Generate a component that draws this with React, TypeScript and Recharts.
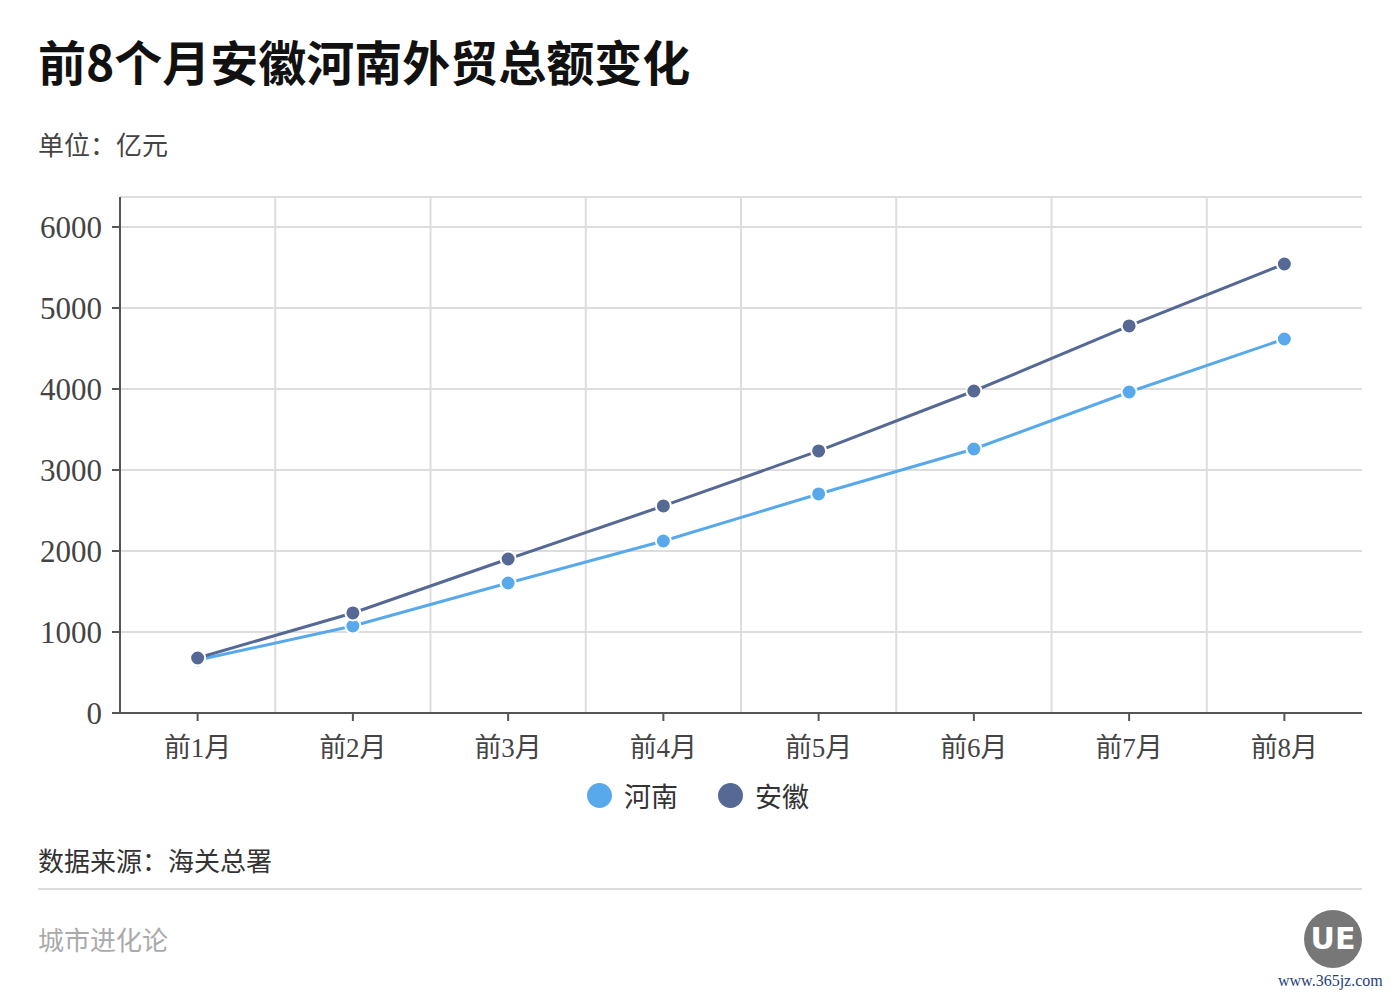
import { CartesianGrid, Legend, Line, LineChart, XAxis, YAxis } from "recharts";

const months = ["前1月", "前2月", "前3月", "前4月", "前5月", "前6月", "前7月", "前8月"];
const henan = [654, 1074, 1605, 2123, 2704, 3259, 3963, 4617];
const anhui = [679, 1235, 1901, 2556, 3235, 3975, 4778, 5543];
const yTicks = [0, 1000, 2000, 3000, 4000, 5000, 6000];
const seriesNames = ["河南", "安徽"];

const HENAN_COLOR = "#58a9ec";
const ANHUI_COLOR = "#556994";

const CJK = '"Noto Sans CJK SC", sans-serif';
const TICK_FONT = '"Liberation Serif", "Noto Sans CJK SC", serif';

const data = months.map((m, i) => ({ month: m, 河南: henan[i], 安徽: anhui[i] }));

const LegendContent = ({ payload }: any) => {
  const items = [...(payload || [])].sort(
    (a: any, b: any) => seriesNames.indexOf(a.value) - seriesNames.indexOf(b.value)
  );
  return (
    <div
      style={{
        display: "flex",
        justifyContent: "center",
        alignItems: "center",
        gap: 40,
        paddingLeft: 24,
      }}
    >
      {items.map((p: any) => (
        <div key={p.value} style={{ display: "flex", alignItems: "center" }}>
          <span
            style={{
              width: 25,
              height: 25,
              borderRadius: 13,
              background: p.color,
              display: "inline-block",
              marginRight: 12,
            }}
          />
          <span style={{ fontFamily: CJK, fontSize: 27, color: "#333" }}>{p.value}</span>
        </div>
      ))}
    </div>
  );
};

export default function App() {
  return (
    <div
      style={{
        position: "absolute",
        left: 0,
        top: 0,
        width: 1400,
        height: 1000,
        background: "#fff",
        overflow: "hidden",
      }}
    >
      <LineChart
        width={1400}
        height={830}
        data={data}
        margin={{ top: 197, right: 38, left: 10, bottom: 14 }}
        style={{ position: "absolute", left: 0, top: 0 }}
      >
        <CartesianGrid
          stroke="#dddddd"
          strokeWidth={2}
          verticalCoordinatesGenerator={({ offset }: any) =>
            months.slice(1).map((_, i) => offset.left + (offset.width * (i + 1)) / months.length)
          }
        />
        <XAxis
          dataKey="month"
          scale="band"
          height={63}
          stroke="#555"
          strokeWidth={2}
          tickSize={8}
          tickMargin={17}
          tick={{ fontSize: 27, fill: "#444", fontFamily: TICK_FONT }}
        />
        <YAxis
          width={110}
          domain={[0, 6370]}
          ticks={yTicks}
          stroke="#555"
          strokeWidth={2}
          tickSize={8}
          tickMargin={10}
          tick={{ fontSize: 31, fill: "#444", fontFamily: TICK_FONT }}
          allowDataOverflow
        />
        <Legend verticalAlign="bottom" height={40} content={<LegendContent />} />
        <Line
          dataKey="河南"
          stroke={HENAN_COLOR}
          strokeWidth={3}
          dot={{ r: 7.5, fill: HENAN_COLOR, stroke: "#fff", strokeWidth: 2 }}
          isAnimationActive={false}
        />
        <Line
          dataKey="安徽"
          stroke={ANHUI_COLOR}
          strokeWidth={3}
          dot={{ r: 7.5, fill: ANHUI_COLOR, stroke: "#fff", strokeWidth: 2 }}
          isAnimationActive={false}
        />
      </LineChart>

      <div
        style={{
          position: "absolute",
          left: 38,
          top: 29,
          fontFamily: CJK,
          fontWeight: 700,
          fontSize: 48,
          lineHeight: "62px",
          color: "#111",
        }}
      >
        前8个月安徽河南外贸总额变化
      </div>
      <div
        style={{
          position: "absolute",
          left: 38,
          top: 127,
          fontFamily: CJK,
          fontSize: 26,
          lineHeight: "34px",
          color: "#444",
        }}
      >
        单位：亿元
      </div>
      <div
        style={{
          position: "absolute",
          left: 38,
          top: 843,
          fontFamily: CJK,
          fontSize: 26,
          lineHeight: "34px",
          color: "#333",
        }}
      >
        数据来源：海关总署
      </div>
      <div
        style={{
          position: "absolute",
          left: 38,
          top: 888,
          width: 1324,
          height: 2,
          background: "#dddddd",
        }}
      />
      <div
        style={{
          position: "absolute",
          left: 38,
          top: 922,
          fontFamily: CJK,
          fontSize: 26,
          lineHeight: "34px",
          color: "#aaa",
        }}
      >
        城市进化论
      </div>
      <div
        style={{
          position: "absolute",
          left: 1304,
          top: 910,
          width: 58,
          height: 58,
          borderRadius: 29,
          background: "#777",
          color: "#fff",
          fontFamily: '"DejaVu Sans", sans-serif',
          fontWeight: 700,
          fontSize: 30,
          lineHeight: "58px",
          textAlign: "center",
        }}
      >
        UE
      </div>
      <div
        style={{
          position: "absolute",
          left: 1278,
          top: 972,
          fontFamily: '"Liberation Serif", serif',
          fontSize: 16,
          color: "#1f3f7a",
        }}
      >
        www.365jz.com
      </div>
    </div>
  );
}
